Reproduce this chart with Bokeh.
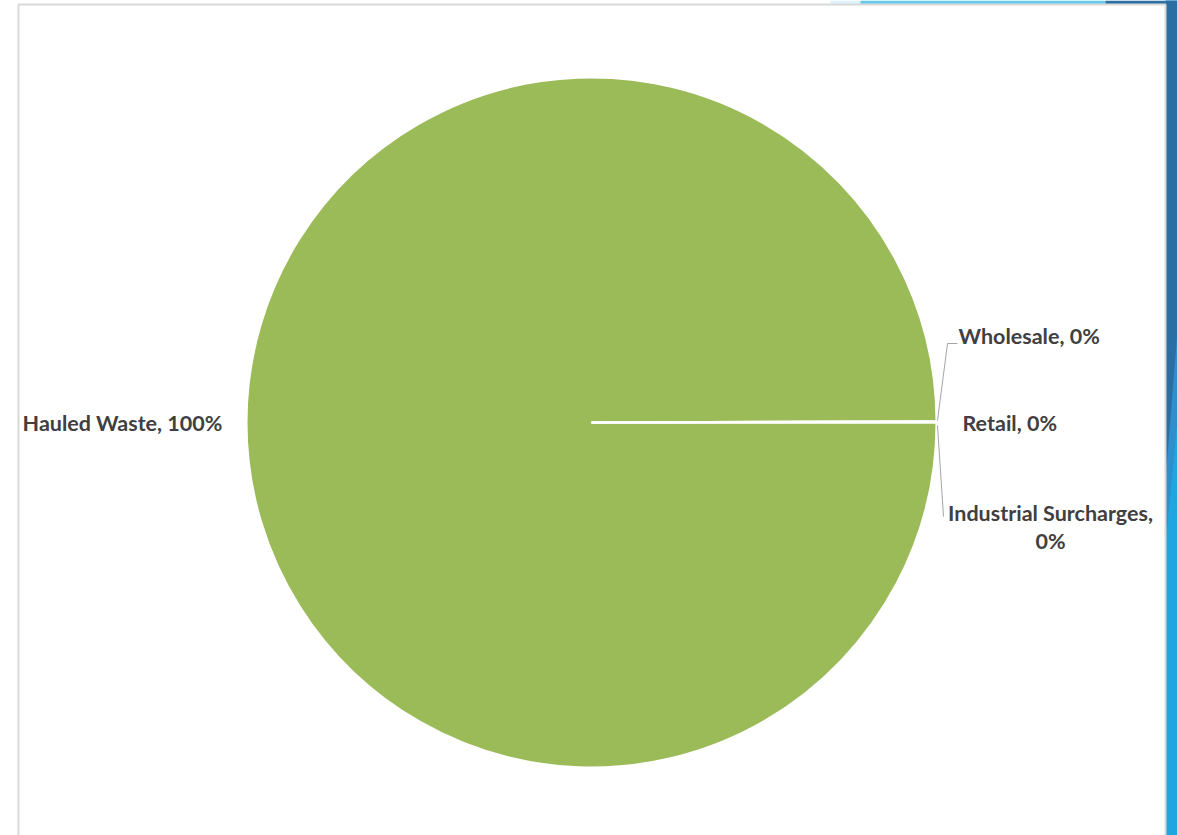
import numpy as np
from bokeh.plotting import figure
from bokeh.models import Range1d, ColumnDataSource
from bokeh.core.properties import value
from bokeh.embed import file_html
from bokeh.resources import INLINE

# ---- data ----
categories = ["Hauled Waste", "Wholesale", "Retail", "Industrial Surcharges"]
shares = [99.94, 0.02, 0.02, 0.02]
labels = ["Hauled Waste, 100%", "Wholesale, 0%", "Retail, 0%", "Industrial Surcharges,\n0%"]
colors = ["#9BBB59", "#4F81BD", "#C0504D", "#8064A2"]

W, H = 1177, 835
p = figure(width=W, height=H, x_range=Range1d(0, W), y_range=Range1d(0, H),
           output_backend="svg", toolbar_location=None, min_border=0,
           background_fill_color="white", border_fill_color="white")
p.axis.visible = False
p.grid.visible = False
p.outline_line_color = None

# slide decoration (background shapes)
p.quad(left=[785, 830, 860, 1105], right=[830, 860, 1105, W], top=[H, H, H, H], bottom=[H - 5] * 4,
       fill_color=["#ffffff", "#dff2fa", "#69c9ea", "#2a6ea3"], line_color=None)
p.patch(x=[1165, W, W, 1165], y=[H, H, 0, 0], fill_color="#1fa6de", line_color=None)
p.patch(x=[1165, W, W, 1165], y=[H, H, H - 420, H - 545], fill_color="#2f8fcc", line_color=None)
p.patch(x=[1165, W, W, 1165], y=[H, H, H - 330, H - 480], fill_color="#2a6ea3", line_color=None)

# chart panel
p.quad(left=[18], right=[1165], top=[H - 4], bottom=[-5], fill_color="white",
       line_color="#d9d9d9", line_width=2)

cx, cy, r = 591, H - 422, 345
vals = np.array(shares, dtype=float)
frac = vals / vals.sum()
ends = np.cumsum(frac) * 2 * np.pi
starts = np.concatenate([[0.0], ends[:-1]])
src = ColumnDataSource(dict(start=-starts, end=-ends, color=colors, cat=categories))
p.wedge(x=cx, y=cy, radius=r, start_angle="start", end_angle="end", direction="clock",
        fill_color="color", line_color="white", line_width=2, source=src)

# leader lines
p.line(x=[937, 947, 957], y=[H - 420, H - 343, H - 343], line_color="#a6a6a6", line_width=1)
p.line(x=[937, 943], y=[H - 425, H - 516], line_color="#a6a6a6", line_width=1)

font = value("Lato")
fs = "21.5px"
col = "#404040"
p.text(x=[222], y=[cy], text=[labels[0]], text_align="right", text_baseline="middle",
       text_font=font, text_font_style="bold", text_font_size=fs, text_color=col)
p.text(x=[958], y=[H - 335], text=[labels[1]], text_align="left", text_baseline="middle",
       text_font=font, text_font_style="bold", text_font_size=fs, text_color=col)
p.text(x=[962], y=[cy], text=[labels[2]], text_align="left", text_baseline="middle",
       text_font=font, text_font_style="bold", text_font_size=fs, text_color=col)
p.text(x=[1050, 1050], y=[H - 512, H - 540], text=labels[3].split("\n"), text_align="center",
       text_baseline="middle", text_font=font, text_font_style="bold", text_font_size=fs,
       text_color=col)

open("out.html", "w").write(file_html(p, INLINE))
